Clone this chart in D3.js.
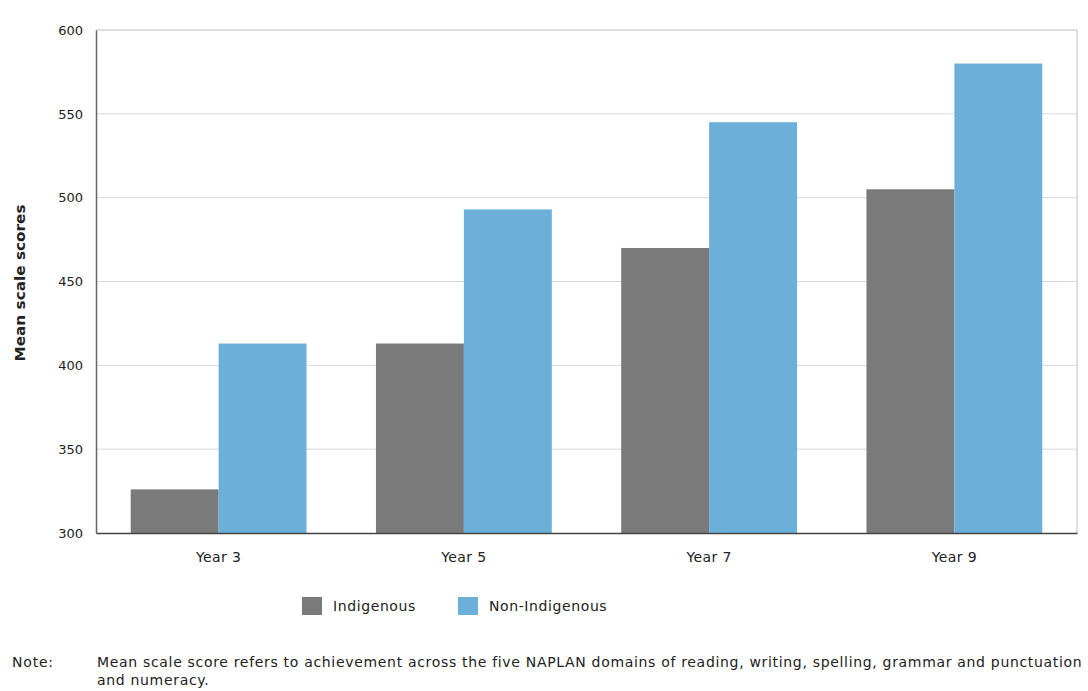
<!DOCTYPE html>
<html><head><meta charset="utf-8">
<script src="https://cdn.jsdelivr.net/npm/d3@7"></script>
<style>
body{margin:0;background:#fff;}
svg text{font-family:"DejaVu Sans",sans-serif;fill:#222;}
</style></head>
<body><svg id="c" width="1088" height="691"></svg>
<script>
const categories = ["Year 3","Year 5","Year 7","Year 9"];
const seriesNames = ["Indigenous","Non-Indigenous"];
const indigenous = [326, 413, 470, 505];
const nonIndigenous = [413, 493, 545, 580];
const yTicks = [300,350,400,450,500,550,600];
const noteLines = ["Mean scale score refers to achievement across the five NAPLAN domains of reading, writing, spelling, grammar and punctuation","and numeracy."];

const colors = {"Indigenous":"#7a7a7a","Non-Indigenous":"#6cb0da"};
const svg = d3.select("#c");
const L=96,R=1077,T=30,B=533;
const x0 = d3.scaleBand().domain(categories).range([L,R]).paddingInner(0.283).paddingOuter(0.1415);
const x1 = d3.scaleBand().domain(seriesNames).range([0,x0.bandwidth()]);
const y = d3.scaleLinear().domain([300,600]).range([B,T]);

// gridlines
svg.append("g").selectAll("line").data(yTicks.slice(1)).join("line")
  .attr("x1",L).attr("x2",R).attr("y1",d=>y(d)).attr("y2",d=>y(d))
  .attr("stroke",d=>d===600?"#bdbdbd":"#d8d8d8").attr("stroke-width",1);
// right border
svg.append("line").attr("x1",R).attr("x2",R).attr("y1",T).attr("y2",B).attr("stroke","#bdbdbd");

const data = categories.map((c,i)=>({cat:c, vals:[{s:"Indigenous",v:indigenous[i]},{s:"Non-Indigenous",v:nonIndigenous[i]}]}));
svg.append("g").selectAll("g").data(data).join("g")
  .attr("transform",d=>`translate(${x0(d.cat)},0)`)
  .selectAll("rect").data(d=>d.vals).join("rect")
  .attr("x",d=>x1(d.s)).attr("width",x1.bandwidth())
  .attr("y",d=>y(d.v)).attr("height",d=>B-y(d.v))
  .attr("fill",d=>colors[d.s]);

// y axis
const ya = svg.append("g").attr("transform",`translate(${L},0)`)
  .call(d3.axisLeft(y).tickValues(yTicks).tickSize(0).tickPadding(13));
ya.select(".domain").attr("stroke","#666").attr("stroke-width",1.5);
ya.selectAll("text").attr("font-size",13).attr("fill","#222").attr("font-family","DejaVu Sans, sans-serif");
// x axis
const xa = svg.append("g").attr("transform",`translate(0,${B})`)
  .call(d3.axisBottom(x0).tickSize(0).tickPadding(19));
xa.select(".domain").attr("stroke","#444").attr("stroke-width",1.5);
xa.selectAll("text").attr("font-size",14).attr("letter-spacing",0.4).attr("fill","#222").attr("font-family","DejaVu Sans, sans-serif");

svg.append("text").attr("transform","translate(25,283) rotate(-90)")
  .attr("text-anchor","middle").attr("font-size",14).attr("font-weight","bold")
  .attr("textLength",157).attr("lengthAdjust","spacingAndGlyphs").text("Mean scale scores");

// legend
const leg = [{s:"Indigenous",x:302},{s:"Non-Indigenous",x:458}];
const lg = svg.append("g").selectAll("g").data(leg).join("g").attr("transform",d=>`translate(${d.x},597)`);
lg.append("rect").attr("width",20).attr("height",18).attr("fill",d=>colors[d.s]);
lg.append("text").attr("x",31).attr("y",14).attr("font-size",14).attr("letter-spacing",0.6).text(d=>d.s);

// note
svg.append("text").attr("x",12).attr("y",667).attr("font-size",14).attr("letter-spacing",0.8).text("Note:");
svg.append("g").selectAll("text").data(noteLines).join("text")
  .attr("x",97).attr("y",(d,i)=>667+i*18).attr("font-size",14).attr("letter-spacing",0.68).text(d=>d);
</script></body></html>
